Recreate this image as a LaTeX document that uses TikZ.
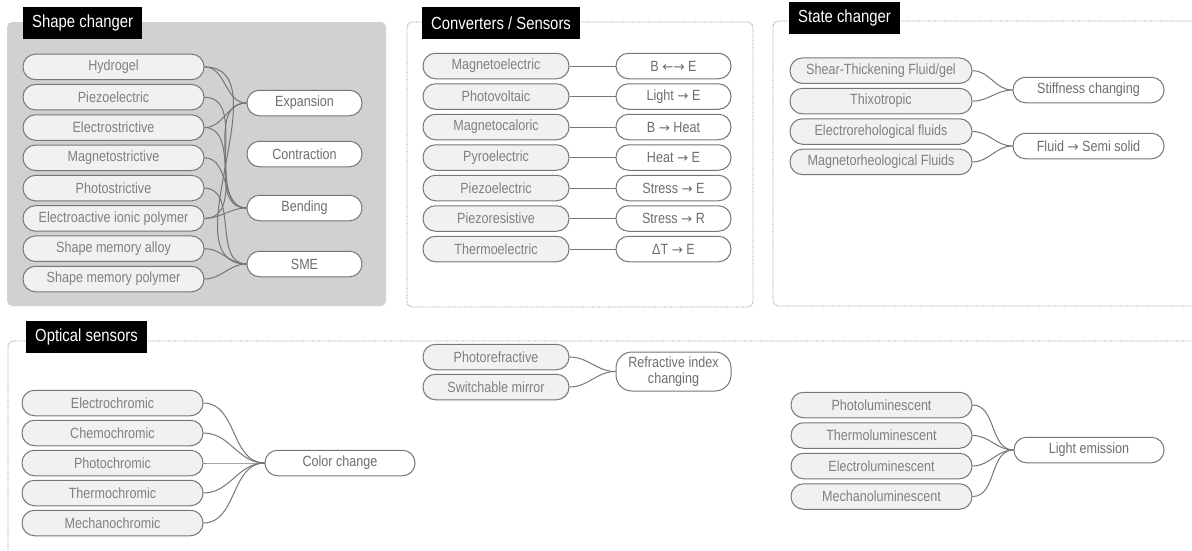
\documentclass[tikz,border=0pt]{standalone}
\usepackage{fontspec}
\setmainfont{Liberation Sans}[FakeStretch=0.85]
\newfontfamily\arrowfont{DejaVu Sans}[Scale=0.9]
\usetikzlibrary{positioning}
\definecolor{edgegray}{RGB}{118,118,118}
\definecolor{framegray}{RGB}{140,140,140}
\definecolor{panelgray}{RGB}{210,209,209}
\definecolor{matfill}{RGB}{241,241,241}
\definecolor{mattext}{RGB}{128,128,128}
\definecolor{efftext}{RGB}{110,110,110}
\newcommand{\nodefont}{\fontsize{14.8}{16}\selectfont}
\newcommand{\hdrfont}{\fontsize{17.5}{19}\selectfont}
\newcommand{\ra}{{\arrowfont →}}
\newcommand{\la}{{\arrowfont ←}}

\tikzset{
  mat/.style={draw=edgegray, line width=1pt, fill=matfill, text=mattext,
    rounded corners=12.5pt, minimum height=25.5pt, inner sep=0pt, font=\nodefont},
  eff/.style={mat, fill=white, text=efftext},
  hdr/.style={fill=black, text=white, anchor=north west, minimum height=32pt,
    inner xsep=9pt, font=\hdrfont},
  frame/.style={draw=framegray, densely dotted, line width=0.8pt, rounded corners=5pt},
  link/.style={draw=edgegray, line width=1pt},
}

\begin{document}
\begin{tikzpicture}[x=1pt, y=-1pt]
  \clip (0,0) rectangle (1192,550);
  % panels
  \fill[panelgray, rounded corners=5pt] (7,22) rectangle (386,306);
  \draw[frame] (407,22) rectangle (753,307);
  \draw[frame] (773,21) rectangle (1210,306);
  \draw[frame] (8,341) rectangle (1210,570);
  \node[hdr] (shp) at (23,7) {Shape changer};
  \node[hdr] (cnv) at (422,7) {Converters / Sensors};
  \node[hdr] (stc) at (789,2) {State changer};
  \node[hdr] (opt) at (26,321) {Optical sensors};

  % shape changer
  \foreach \n/\t [count=\i] in {hyd/Hydrogel, pze/Piezoelectric, els/Electrostrictive,
      mgs/Magnetostrictive, phs/Photostrictive, eap/Electroactive ionic polymer,
      sma/Shape memory alloy, smp/Shape memory polymer}
    \node[mat, minimum width=181pt] (\n) at (113.5, 36.6+30.3*\i) {\t};
  \node[eff, minimum width=115pt] (exp) at (304.5,103) {Expansion};
  \node[eff, minimum width=115pt] (con) at (304.5,154) {Contraction};
  \node[eff, minimum width=115pt] (ben) at (304.5,208) {Bending};
  \node[eff, minimum width=115pt] (sme) at (304.5,264) {SME};
  \foreach \a/\b in {hyd/exp, hyd/sme, pze/ben, els/exp, els/ben, mgs/ben,
      phs/sme, eap/exp, eap/ben, sma/sme, smp/sme}
    \draw[link] (\a.east) to[out=0, in=180] (\b.west);

  % converters / sensors
  \foreach \t/\u [count=\i] in {Magnetoelectric/B \la\ra\ E, Photovoltaic/Light \ra\ E,
      Magnetocaloric/B \ra\ Heat, Pyroelectric/Heat \ra\ E, Piezoelectric/Stress \ra\ E,
      Piezoresistive/Stress \ra\ R, Thermoelectric/ΔT \ra\ E} {
    \node[mat, minimum width=146pt] (cv\i) at (496, 35.5+30.5*\i) {\t};
    \node[eff, minimum width=115pt] (ce\i) at (673.5, 35.5+30.5*\i) {\u};
    \draw[link] (cv\i) -- (ce\i);
  }

  % state changer
  \foreach \n/\t [count=\i] in {stf/{Shear-Thickening Fluid/gel}, thx/Thixotropic,
      erf/Electrorehological fluids, mrf/Magnetorheological Fluids}
    \node[mat, minimum width=182pt] (\n) at (881, 40.3+30.4*\i) {\t};
  \node[eff, minimum width=151pt] (stf2) at (1088.5,90) {Stiffness changing};
  \node[eff, minimum width=151pt] (fss) at (1088.5,146) {Fluid \ra\ Semi solid};
  \foreach \a/\b in {stf/stf2, thx/stf2, erf/fss, mrf/fss}
    \draw[link] (\a.east) to[out=0, in=180] (\b.west);

  % optical sensors
  \foreach \n/\t [count=\i] in {elc/Electrochromic, chc/Chemochromic, phc/Photochromic,
      thc/Thermochromic, mcc/Mechanochromic}
    \node[mat, minimum width=181pt] (\n) at (112.5, 373+30*\i) {\t};
  \node[eff, minimum width=150pt] (col) at (340,463) {Color change};
  \foreach \a in {elc, chc, phc, thc, mcc}
    \draw[link] (\a.east) to[out=0, in=180] (col.west);

  \node[mat, minimum width=146pt] (prf) at (496,357) {Photorefractive};
  \node[mat, minimum width=146pt] (swm) at (496,387) {Switchable mirror};
  \node[eff, minimum width=115pt, minimum height=39pt, rounded corners=16pt,
    align=center] (rix) at (673.5,371.5) {Refractive index\\changing};
  \foreach \a in {prf, swm}
    \draw[link] (\a.east) to[out=0, in=180] (rix.west);

  \foreach \n/\t [count=\i] in {plm/Photoluminescent, tlm/Thermoluminescent,
      elm/Electroluminescent, mlm/Mechanoluminescent}
    \node[mat, minimum width=181pt] (\n) at (881.5, 374.5+30.5*\i) {\t};
  \node[eff, minimum width=150pt] (lem) at (1089,450) {Light emission};
  \foreach \a in {plm, tlm, elm, mlm}
    \draw[link] (\a.east) to[out=0, in=180] (lem.west);
\end{tikzpicture}
\end{document}
